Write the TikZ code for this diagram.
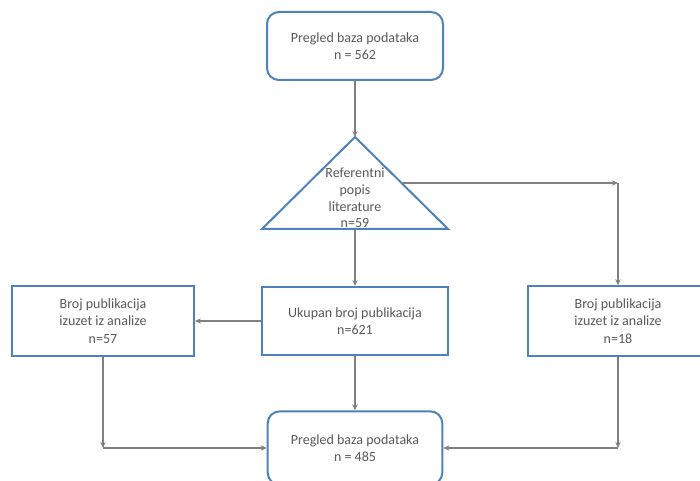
\documentclass[tikz,border=0pt]{standalone}
\usepackage{fontspec}
\setmainfont{Carlito}
\usetikzlibrary{arrows.meta}
\definecolor{okvir}{RGB}{79,129,189}
\definecolor{linija}{RGB}{128,128,128}
\definecolor{tekst}{RGB}{89,89,89}
\begin{document}
\begin{tikzpicture}[x=0.75pt,y=-0.75pt,arrow/.style={-{Stealth[length=4.5pt,width=4pt]},draw=linija,line width=1.1pt},
	okv/.style={draw=okvir,line width=1.5pt,fill=white,align=center,text=tekst,font=\fontsize{10.5}{13}\selectfont,inner sep=0pt},
	zaobljen/.style={okv,rounded corners=9pt}]
				\clip (0,0) rectangle (700,481);
				\fill[white] (0,0) rectangle (700,481);
				% trokut
				\coordinate (apex) at (355,137);
				\coordinate (bl) at (262,229);
				\coordinate (br) at (448,229);
				\coordinate (base) at (355,229);
				\coordinate (rub) at (401,183);
				\coordinate (rc) at (618,183);
				\draw[draw=okvir,line width=1.5pt,fill=white] (apex)--(bl)--(br)--cycle;
				\node[align=center,text=tekst,font=\fontsize{10.5}{12.5}\selectfont] (tri) at (355,198) {Referentni\\popis\\literature\\n=59};
				% okviri
				\node[zaobljen,minimum width=132pt,minimum height=51pt] (top) at (355,46) {Pregled baza podataka\\n = 562};
				\node[okv,minimum width=139.5pt,minimum height=51pt] (mid) at (355,321) {Ukupan broj publikacija\\n=621};
				\node[okv,minimum width=136.5pt,minimum height=52pt] (left) at (103,321) {Broj publikacija\\izuzet iz analize\\n=57};
				\node[okv,minimum width=135pt,minimum height=52pt] (right) at (618,321) {Broj publikacija\\izuzet iz analize\\n=18};
				\node[zaobljen,minimum width=131pt,minimum height=55pt] (bot) at (355,448) {Pregled baza podataka\\n = 485};
				\coordinate (lc) at (left.south |- bot.west);
				\coordinate (dc) at (right.south |- bot.east);
				% strelice
				\foreach \od/\do in {top.south/apex,base/mid.north,rub/rc,rc/right.north,mid.west/left.east,mid.south/bot.north,left.south/lc,lc/bot.west,right.south/dc,dc/bot.east}
				\draw[arrow] (\od)--(\do);
			\end{tikzpicture}
\end{document}
